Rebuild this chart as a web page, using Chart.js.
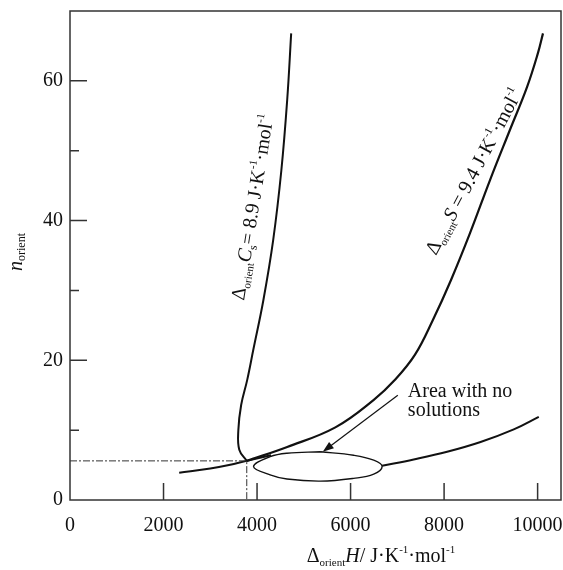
<!DOCTYPE html>
<html>
<head>
<meta charset="utf-8">
<script src="https://cdn.jsdelivr.net/npm/chart.js@4.4.0/dist/chart.umd.min.js"></script>
<style>
  html, body { margin: 0; padding: 0; background: #fff; }
  #wrap { width: 563px; height: 570px; }
</style>
</head>
<body>
<div id="wrap"><canvas id="chart"></canvas></div>
<script>
// curve for Δorient Cs = 8.9 (H, n)
const csH = [4730, 4645, 4520, 4345, 4135, 3920, 3790, 3660, 3600, 3620, 3780];
const csN = [66.8, 57.3, 47.2, 37.2, 28.6, 21.5, 17.2, 13.6, 10.0, 7.2, 5.6];

// curve for Δorient S = 9.4
const sH = [3780, 4645, 5675, 6490, 6950, 7378, 7763, 8148, 8554, 8982, 9409, 9773, 10008, 10115];
const sN = [5.6, 7.6, 10.4, 14.3, 17.2, 20.8, 25.8, 31.5, 38.2, 45.8, 53.0, 59.1, 64.0, 66.8];

// lower curve, both sides of the no-solution area
const lowLeftH = [2335, 3000, 3400, 3780, 4300];
const lowLeftN = [3.9, 4.5, 5.0, 5.6, 6.4];
const lowRightH = [6675, 7350, 8065, 8780, 9490, 10025];
const lowRightN = [4.9, 5.8, 6.9, 8.3, 10.1, 11.9];

// outline of the "area with no solutions"
const areaH = [5355, 6065, 6495, 6675, 6495, 6065, 5355, 4640, 4280, 3925, 4280, 4640, 5355];
const areaN = [6.9, 6.4, 5.7, 4.8, 3.7, 3.1, 2.7, 3.0, 3.6, 4.8, 6.2, 6.7, 6.9];

// dash-dot guide to the crossing point
const guideH = [0, 3780, 3780];
const guideN = [5.6, 5.6, 0];

const xLabels = [0, 2000, 4000, 6000, 8000, 10000];
const yLabels = [0, 20, 40, 60];
const xMarks = [2000, 4000, 6000, 8000, 10000];
const yMarks = [20, 40, 60];
const yMinorMarks = [10, 30, 50];

const pts = (xs, ys) => xs.map((x, i) => ({ x: x, y: ys[i] }));
const SERIF = '"Liberation Serif", "DejaVu Serif", serif';
const INK = '#111';

function richText(ctx, parts, x, y) {
    let w = 0;
    parts.forEach(p => {
        ctx.font = (p[2] || '') + ' ' + p[1] + 'px ' + SERIF;
        p.w = ctx.measureText(p[0]).width;
        w += p.w;
    });
    let cx = x - w / 2;
    parts.forEach(p => {
        ctx.font = (p[2] || '') + ' ' + p[1] + 'px ' + SERIF;
        ctx.fillText(p[0], cx, y + (p[3] || 0));
        cx += p.w;
    });
}

const decorations = {
    id: 'decorations',
    afterDraw(chart) {
        const ctx = chart.ctx;
        const xs = chart.scales.x, ys = chart.scales.y;
        const a = chart.chartArea;
        ctx.save();

        // frame
        ctx.strokeStyle = '#333';
        ctx.lineWidth = 1.5;
        ctx.strokeRect(a.left, a.top, a.right - a.left, a.bottom - a.top);

        // inward ticks
        ctx.beginPath();
        xMarks.forEach(v => {
            const px = xs.getPixelForValue(v);
            ctx.moveTo(px, a.bottom);
            ctx.lineTo(px, a.bottom - 17);
        });
        yMarks.forEach(v => {
            const py = ys.getPixelForValue(v);
            ctx.moveTo(a.left, py);
            ctx.lineTo(a.left + 17, py);
        });
        yMinorMarks.forEach(v => {
            const py = ys.getPixelForValue(v);
            ctx.moveTo(a.left, py);
            ctx.lineTo(a.left + 9, py);
        });
        ctx.stroke();

        ctx.fillStyle = INK;
        ctx.textBaseline = 'alphabetic';

        // curve labels
        ctx.save();
        ctx.translate(xs.getPixelForValue(3910), ys.getPixelForValue(41.9));
        ctx.rotate(-81 * Math.PI / 180);
        richText(ctx, [['Δ', 20], ['orient', 11, '', 4], ['C', 20, 'italic'], ['s', 12, '', 4],
            ['= 8.9 J·K', 20], ['-1', 11, '', -9], ['·mol', 20], ['-1', 11, '', -9]], 0, 6);
        ctx.restore();

        ctx.save();
        ctx.translate(xs.getPixelForValue(8640), ys.getPixelForValue(47.0));
        ctx.rotate(-62 * Math.PI / 180);
        richText(ctx, [['Δ', 20], ['orient', 11, '', 4], ['S', 20, 'italic'],
            [' = 9.4 J·K', 20], ['-1', 11, '', -9], ['·mol', 20], ['-1', 11, '', -9]], 0, 6);
        ctx.restore();

        // area note and arrow
        ctx.font = '20px ' + SERIF;
        ctx.textAlign = 'left';
        const tx = xs.getPixelForValue(7225);
        ctx.fillText('Area with no', tx, ys.getPixelForValue(14.7));
        ctx.fillText('solutions', tx, ys.getPixelForValue(12.0));

        const x0 = xs.getPixelForValue(7010), y0 = ys.getPixelForValue(15.0);
        const x1 = xs.getPixelForValue(5405), y1 = ys.getPixelForValue(6.9);
        const ang = Math.atan2(y1 - y0, x1 - x0);
        ctx.strokeStyle = INK;
        ctx.lineWidth = 1.2;
        ctx.beginPath();
        ctx.moveTo(x0, y0);
        ctx.lineTo(x1 - 8 * Math.cos(ang), y1 - 8 * Math.sin(ang));
        ctx.stroke();
        ctx.beginPath();
        ctx.moveTo(x1, y1);
        ctx.lineTo(x1 - 11 * Math.cos(ang) + 4 * Math.sin(ang), y1 - 11 * Math.sin(ang) - 4 * Math.cos(ang));
        ctx.lineTo(x1 - 11 * Math.cos(ang) - 4 * Math.sin(ang), y1 - 11 * Math.sin(ang) + 4 * Math.cos(ang));
        ctx.closePath();
        ctx.fill();

        // axis titles
        richText(ctx, [['Δ', 20], ['orient', 11, '', 4], ['H', 20, 'italic'],
            ['/ J·K', 20], ['-1', 11, '', -9], ['·mol', 20], ['-1', 11, '', -9]], 381, 562);

        ctx.save();
        ctx.translate(22, 252);
        ctx.rotate(-Math.PI / 2);
        richText(ctx, [['n', 20, 'italic'], ['orient', 12, '', 3]], 0, 0);
        ctx.restore();

        ctx.restore();
    }
};

const curve = (data, width) => ({
    data: data,
    showLine: true,
    borderColor: INK,
    borderWidth: width,
    pointRadius: 0,
    tension: 0.4,
    fill: false
});

const guide = {
    data: pts(guideH, guideN),
    showLine: true,
    borderColor: '#333',
    borderWidth: 1,
    borderDash: [7, 2, 2, 2],
    pointRadius: 0,
    tension: 0
};

new Chart(document.getElementById('chart'), {
    type: 'scatter',
    data: {
        datasets: [
            guide,
            curve(pts(csH, csN), 2),
            curve(pts(sH, sN), 2.2),
            curve(pts(lowLeftH, lowLeftN), 2),
            curve(pts(lowRightH, lowRightN), 2),
            curve(pts(areaH, areaN), 1.4)
        ]
    },
    options: {
        responsive: true,
        maintainAspectRatio: false,
        animation: false,
        layout: { padding: { top: 11, right: 2, left: 0, bottom: 0 } },
        plugins: { legend: { display: false }, tooltip: { enabled: false } },
        scales: {
            x: {
                type: 'linear',
                min: 0,
                max: 10500,
                grid: { display: false, drawTicks: false },
                border: { display: false },
                afterBuildTicks: s => { s.ticks = xLabels.map(v => ({ value: v })); },
                ticks: {
                    color: INK,
                    padding: 14,
                    maxRotation: 0,
                    autoSkip: false,
                    callback: v => String(v),
                    font: { family: SERIF, size: 20 }
                },
                afterFit: s => { s.height = 70; s.paddingLeft = 0; s.paddingRight = 0; }
            },
            y: {
                min: 0,
                max: 70,
                grid: { display: false, drawTicks: false },
                border: { display: false },
                afterBuildTicks: s => { s.ticks = yLabels.map(v => ({ value: v })); },
                ticks: {
                    color: INK,
                    padding: 7,
                    autoSkip: false,
                    callback: v => String(v),
                    font: { family: SERIF, size: 20 }
                },
                afterFit: s => { s.width = 70; s.paddingTop = 0; s.paddingBottom = 0; }
            }
        }
    },
    plugins: [decorations]
});
</script>
</body>
</html>
